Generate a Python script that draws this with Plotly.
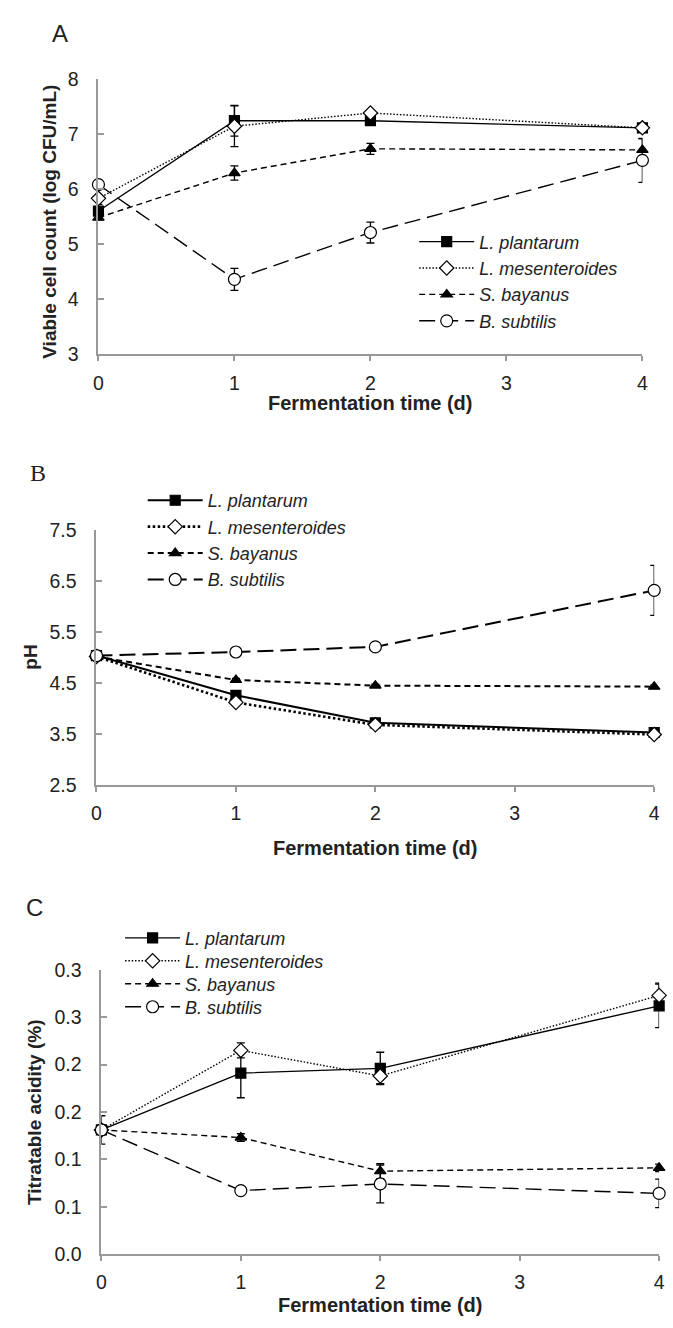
import plotly.graph_objects as go

W, H = 673, 1328

days = [0, 1, 2, 4]
species = ["L. plantarum", "L. mesenteroides", "S. bayanus", "B. subtilis"]

# Panel A: viable cell count (log CFU/mL)
viable_plantarum = [5.60, 7.24, 7.24, 7.11]
viable_plantarum_err = [0.12, 0.28, 0.05, 0.04]
viable_mesenteroides = [5.83, 7.14, 7.38, 7.11]
viable_mesenteroides_err = [0.05, 0.37, 0.04, 0.04]
viable_bayanus = [5.48, 6.29, 6.73, 6.71]
viable_bayanus_err = [0.04, 0.13, 0.10, 0.20]
viable_subtilis = [6.08, 4.36, 5.21, 6.52]
viable_subtilis_err = [0.08, 0.20, 0.19, 0.40]

# Panel B: pH
ph_plantarum = [5.04, 4.26, 3.72, 3.53]
ph_plantarum_err = [0.03, 0.03, 0.03, 0.03]
ph_mesenteroides = [5.02, 4.12, 3.68, 3.49]
ph_mesenteroides_err = [0.03, 0.03, 0.03, 0.03]
ph_bayanus = [5.02, 4.56, 4.45, 4.43]
ph_bayanus_err = [0.03, 0.03, 0.03, 0.03]
ph_subtilis = [5.04, 5.11, 5.21, 6.32]
ph_subtilis_err = [0.03, 0.03, 0.08, 0.49]

# Panel C: titratable acidity (%)
ta_plantarum = [0.131, 0.191, 0.196, 0.262]
ta_plantarum_err = [0.015, 0.026, 0.017, 0.023]
ta_mesenteroides = [0.131, 0.215, 0.188, 0.273]
ta_mesenteroides_err = [0.005, 0.008, 0.008, 0.013]
ta_bayanus = [0.131, 0.123, 0.0875, 0.091]
ta_bayanus_err = [0.005, 0.004, 0.008, 0.004]
ta_subtilis = [0.131, 0.067, 0.074, 0.064]
ta_subtilis_err = [0.005, 0.003, 0.020, 0.015]

x_ticks = [0, 1, 2, 3, 4]
a_ticks = [3, 4, 5, 6, 7, 8]
b_ticks = [2.5, 3.5, 4.5, 5.5, 6.5, 7.5]
b_ticktext = ["2.5", "3.5", "4.5", "5.5", "6.5", "7.5"]
c_tickvals = [0.0, 0.05, 0.10, 0.15, 0.20, 0.25, 0.30]
c_ticktext = ["0.0", "0.1", "0.1", "0.2", "0.2", "0.3", "0.3"]


def px_x(p):
    return p / W


def px_y(p):
    return 1 - p / H


styles = [
    dict(dash="solid", symbol="square", fill="black", size=10),
    dict(dash="1.5px,1.8px", symbol="diamond", fill="white", size=11),
    dict(dash="6px,4px", symbol="triangle-up", fill="black", size=10),
    dict(dash="16px,7px", symbol="circle", fill="white", size=12),
]

# legend ids per panel / series
legend_ids = [
    ["legend", "legend", "legend", "legend"],
    ["legend2", "legend2", "legend2", "legend2"],
    ["legend3", "legend4", "legend5", "legend6"],
]

fig = go.Figure()

panels = [
    ("x", "y",
     [viable_plantarum, viable_mesenteroides, viable_bayanus, viable_subtilis],
     [viable_plantarum_err, viable_mesenteroides_err, viable_bayanus_err, viable_subtilis_err], 1.4),
    ("x2", "y2",
     [ph_plantarum, ph_mesenteroides, ph_bayanus, ph_subtilis],
     [ph_plantarum_err, ph_mesenteroides_err, ph_bayanus_err, ph_subtilis_err], 2.0),
    ("x3", "y3",
     [ta_plantarum, ta_mesenteroides, ta_bayanus, ta_subtilis],
     [ta_plantarum_err, ta_mesenteroides_err, ta_bayanus_err, ta_subtilis_err], 1.4),
]

for pi, (xa, ya, series, errs, lw) in enumerate(panels):
    for i, (name, vals, err, st) in enumerate(zip(species, series, errs, styles)):
        dash = st["dash"]
        width = lw
        if pi == 1 and i == 1:
            dash = "2.5px,2.5px"
            width = 2.6
        lg = legend_ids[pi][i]
        fig.add_trace(go.Scatter(
            x=days, y=vals, name=name, xaxis=xa, yaxis=ya, legend=lg,
            legendgroup=f"p{pi}_{i}",
            mode="lines+markers", cliponaxis=False,
            line=dict(color="black", width=width, dash=dash),
            marker=dict(symbol=st["symbol"], size=st["size"], color=st["fill"],
                        line=dict(color="black", width=1.2)),
            error_y=dict(type="data", array=err, visible=True, color="black",
                         thickness=1.3, width=4),
        ))

axis_common = dict(showline=True, linecolor="#999999", linewidth=2,
                   showgrid=False, zeroline=False, tickcolor="#999999",
                   tickwidth=1.5,
                   tickfont=dict(family="Liberation Sans, Arial", size=19.5, color="#222222"))

# plot areas in pixels
A = dict(x0=95, x1=648, y0=69, y1=349)
B = dict(x0=93, x1=660, y0=528, y1=787)
C = dict(x0=98, x1=665, y0=975, y1=1264)


def dom(p):
    return [px_x(p["x0"]), px_x(p["x1"])], [px_y(p["y1"]), px_y(p["y0"])]


layout = dict(width=W, height=H, margin=dict(l=0, r=0, t=0, b=0),
              paper_bgcolor="white", plot_bgcolor="white", showlegend=True)

for suffix, p, yr, yt in [("", A, [3, 8], dict(tickvals=a_ticks)),
                           ("2", B, [2.5, 7.5], dict(tickvals=b_ticks, ticktext=b_ticktext)),
                           ("3", C, [0, 0.30], dict(tickvals=c_tickvals, ticktext=c_ticktext))]:
    xd, yd = dom(p)
    layout["xaxis" + suffix] = dict(domain=xd, range=[0, 4], tickvals=x_ticks,
                                    anchor="y" + suffix, ticks="outside", ticklen=5,
                                    ticklabelstandoff=5, **axis_common)
    layout["yaxis" + suffix] = dict(domain=yd, range=yr, anchor="x" + suffix,
                                    ticks="inside", ticklen=6, ticklabelstandoff=14,
                                    **yt, **axis_common)

leg_font = dict(family="Liberation Sans, Arial", size=18, color="#222222", style="italic")
legend_common = dict(bgcolor="rgba(0,0,0,0)", borderwidth=0, font=leg_font,
                     xanchor="left", yanchor="top", itemwidth=55, traceorder="normal",
                     itemclick=False, itemdoubleclick=False)

layout["legend"] = dict(x=px_x(416), y=px_y(216), tracegroupgap=0, **legend_common)
layout["legend2"] = dict(x=px_x(140), y=px_y(479), tracegroupgap=1, **legend_common)
for k, top in zip(["legend3", "legend4", "legend5", "legend6"], [924, 947.3, 970.6, 994]):
    layout[k] = dict(x=px_x(117), y=px_y(top), tracegroupgap=0, **legend_common)

title_font = dict(family="Liberation Sans, Arial", size=19, color="#222222", weight="bold")
xtitle_font = dict(title_font, size=20)
letter_font = dict(family="Liberation Sans, Arial", size=24, color="#222222")

annotations = [
    dict(text="A", x=px_x(56), y=px_y(23), font=letter_font),
    dict(text="B", x=px_x(34), y=px_y(470), font=dict(letter_font, family="Liberation Serif")),
    dict(text="C", x=px_x(30), y=px_y(912), font=letter_font),
    dict(text="Fermentation time (d)", x=px_x((A["x0"] + A["x1"]) / 2), y=px_y(399), font=xtitle_font),
    dict(text="Fermentation time (d)", x=px_x((B["x0"] + B["x1"]) / 2), y=px_y(851), font=xtitle_font),
    dict(text="Fermentation time (d)", x=px_x((C["x0"] + C["x1"]) / 2), y=px_y(1316), font=xtitle_font),
    dict(text="Viable cell count (log CFU/mL)", x=px_x(45), y=px_y(214), textangle=-90, font=title_font),
    dict(text="pH", x=px_x(26), y=px_y(657), textangle=-90, font=title_font),
    dict(text="Titratable acidity (%)", x=px_x(30), y=px_y(1120), textangle=-90, font=title_font),
]
for a in annotations:
    a.update(xref="paper", yref="paper", showarrow=False, xanchor="center", yanchor="middle")
layout["annotations"] = annotations

fig.update_layout(**layout)
fig.write_html("out.html")
